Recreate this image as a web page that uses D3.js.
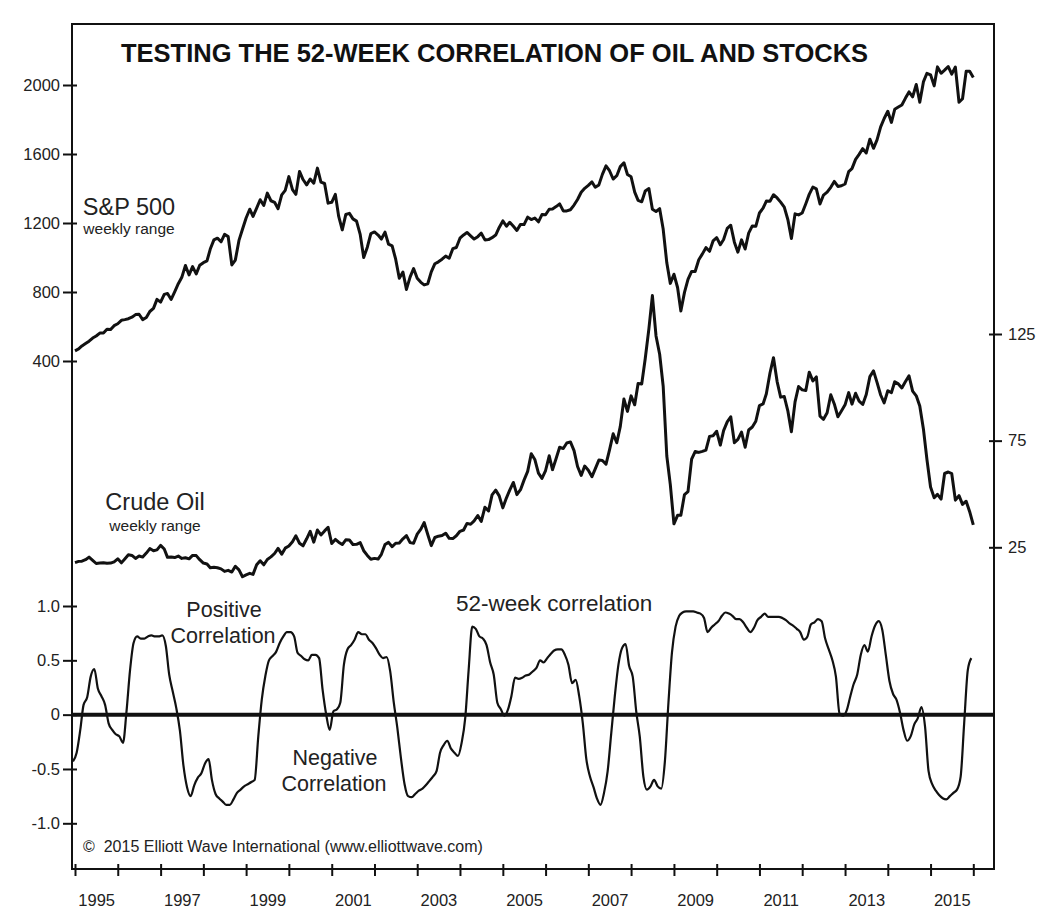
<!DOCTYPE html>
<html>
<head>
<meta charset="utf-8">
<script src="https://cdn.jsdelivr.net/npm/d3@7"></script>
<style>
  body { margin: 0; background: #fff; }
  svg { display: block; font-family: "Liberation Sans", Arial, Helvetica, sans-serif; }
</style>
</head>
<body>
<div id="chart"></div>
<script>
// S&P 500, month-end level, Dec 1994 .. Dec 2015
const spx = [
  459,
  470, 487, 501, 515, 533, 545, 562, 562, 584, 582, 605, 616,       // 1995
  636, 640, 645, 654, 669, 671, 640, 652, 687, 705, 757, 741,       // 1996
  786, 791, 757, 801, 848, 885, 954, 899, 947, 905, 955, 970,       // 1997
  980, 1049, 1102, 1112, 1091, 1134, 1121, 957, 985, 1099, 1164, 1229, // 1998
  1280, 1238, 1286, 1335, 1302, 1373, 1329, 1320, 1283, 1363, 1389, 1469, // 1999
  1394, 1366, 1499, 1452, 1421, 1455, 1431, 1518, 1437, 1429, 1315, 1320, // 2000
  1366, 1240, 1160, 1249, 1256, 1224, 1211, 1134, 1000, 1060, 1139, 1148, // 2001
  1130, 1107, 1147, 1077, 1067, 990, 880, 916, 815, 886, 936, 880,  // 2002
  856, 841, 848, 917, 964, 975, 990, 1008, 996, 1051, 1058, 1112,   // 2003
  1131, 1145, 1126, 1107, 1121, 1141, 1102, 1104, 1115, 1130, 1174, 1212, // 2004
  1181, 1204, 1181, 1157, 1192, 1191, 1234, 1220, 1229, 1207, 1249, 1248, // 2005
  1280, 1281, 1295, 1311, 1270, 1270, 1277, 1304, 1336, 1378, 1401, 1418, // 2006
  1438, 1407, 1421, 1482, 1531, 1503, 1455, 1474, 1527, 1549, 1481, 1468, // 2007
  1379, 1331, 1323, 1386, 1400, 1280, 1267, 1283, 1165, 969, 850, 903,    // 2008
  826, 690, 798, 873, 919, 919, 987, 1021, 1057, 1036, 1096, 1115,  // 2009
  1074, 1104, 1169, 1187, 1089, 1031, 1102, 1049, 1141, 1183, 1181, 1258, // 2010
  1286, 1327, 1326, 1364, 1345, 1321, 1292, 1219, 1110, 1253, 1247, 1258, // 2011
  1312, 1366, 1408, 1398, 1310, 1362, 1379, 1407, 1441, 1412, 1416, 1426, // 2012
  1498, 1515, 1569, 1598, 1631, 1606, 1686, 1633, 1682, 1757, 1806, 1848, // 2013
  1783, 1859, 1872, 1884, 1924, 1960, 1931, 2003, 1900, 2018, 2068, 2059, // 2014
  1995, 2105, 2068, 2086, 2107, 2063, 2104, 1900, 1920, 2079, 2080, 2044  // 2015
];

// crude oil (WTI), month-end $/bbl, Dec 1994 .. Dec 2015
const oil = [
  17.8,
  18.4, 18.5, 19.2, 20.4, 18.9, 17.4, 17.6, 17.8, 17.5, 17.6, 18.2, 19.6, // 1995
  17.7, 19.5, 21.5, 21.2, 19.8, 20.9, 20.4, 22.3, 24.4, 23.4, 23.8, 25.9, // 1996
  24.2, 20.3, 20.4, 20.2, 20.9, 19.8, 20.1, 19.6, 21.2, 21.1, 19.2, 17.6, // 1997
  17.2, 15.4, 15.6, 15.4, 14.9, 13.7, 14.2, 13.4, 16.1, 14.4, 11.2, 12.1, // 1998
  12.8, 12.3, 16.8, 18.7, 16.8, 19.3, 20.5, 22.1, 24.5, 21.8, 24.6, 25.6, // 1999
  27.6, 30.4, 26.9, 25.7, 29.0, 32.5, 27.4, 33.1, 30.8, 32.7, 34.4, 26.8, // 2000
  28.7, 27.4, 26.3, 28.5, 28.4, 26.3, 26.4, 27.2, 23.4, 21.2, 19.4, 19.8, // 2001
  19.5, 21.7, 26.3, 27.3, 25.3, 26.9, 27.0, 29.0, 30.5, 27.2, 26.9, 31.2, // 2002
  33.5, 36.6, 31.0, 25.8, 29.6, 30.2, 30.5, 31.6, 29.2, 29.1, 30.4, 32.5, // 2003
  33.1, 36.2, 35.8, 37.4, 39.9, 37.1, 43.8, 42.1, 49.6, 51.8, 49.1, 43.5, // 2004
  48.2, 51.8, 55.4, 49.7, 52.0, 56.5, 60.6, 68.9, 66.2, 59.8, 57.3, 61.0, // 2005
  67.9, 61.4, 66.6, 71.9, 71.3, 73.9, 74.4, 70.3, 62.9, 58.7, 63.1, 61.1, // 2006
  58.1, 61.8, 65.9, 65.7, 64.0, 70.7, 78.2, 74.0, 81.7, 94.5, 88.7, 96.0, // 2007
  91.8, 101.8, 101.6, 113.5, 127.4, 143.0, 124.1, 115.5, 100.6, 67.8, 54.4, 36.0, // 2008
  40.0, 40.0, 49.7, 51.1, 66.3, 69.9, 69.5, 70.0, 70.6, 77.0, 77.3, 79.4, // 2009
  72.9, 79.7, 83.8, 86.2, 74.0, 75.6, 79.0, 71.9, 80.0, 81.4, 84.1, 91.4, // 2010
  92.2, 97.0, 106.7, 113.9, 102.7, 95.4, 95.7, 88.8, 79.2, 93.2, 100.4, 98.8, // 2011
  98.5, 107.1, 103.0, 104.9, 86.5, 85.0, 88.1, 96.5, 92.2, 86.2, 88.9, 91.8, // 2012
  97.5, 92.1, 97.2, 93.5, 92.0, 96.6, 105.0, 107.7, 102.3, 96.4, 92.7, 98.4, // 2013
  97.5, 102.6, 101.6, 99.7, 102.7, 105.4, 98.2, 96.0, 91.2, 80.5, 66.2, 53.3, // 2014
  48.2, 49.8, 47.6, 59.6, 60.3, 59.5, 47.1, 49.2, 45.1, 46.6, 41.7, 35.5  // 2015
];

// 52-week correlation of oil and stocks, mid-month, Dec 1994 .. Dec 2015
const corr = [
  -0.43,
  -0.35, -0.14, 0.09, 0.16, 0.35, 0.42, 0.24, 0.17, 0.09, -0.08, -0.14, -0.18, // 1995
  -0.20, -0.26, 0.02, 0.41, 0.66, 0.72, 0.70, 0.70, 0.72, 0.73, 0.72, 0.72,    // 1996
  0.73, 0.63, 0.37, 0.21, 0.06, -0.15, -0.47, -0.67, -0.75, -0.65, -0.58, -0.54, // 1997
  -0.45, -0.41, -0.60, -0.73, -0.77, -0.80, -0.83, -0.83, -0.78, -0.72, -0.69, -0.66, // 1998
  -0.64, -0.62, -0.60, -0.20, 0.14, 0.36, 0.50, 0.54, 0.58, 0.66, 0.72, 0.76,  // 1999
  0.76, 0.72, 0.57, 0.54, 0.51, 0.50, 0.55, 0.55, 0.52, 0.23, 0.00, -0.14,     // 2000
  0.03, 0.05, 0.11, 0.46, 0.60, 0.64, 0.69, 0.76, 0.74, 0.74, 0.69, 0.66,      // 2001
  0.61, 0.55, 0.52, 0.53, 0.40, 0.11, -0.12, -0.40, -0.64, -0.75, -0.76, -0.73, // 2002
  -0.70, -0.68, -0.65, -0.61, -0.57, -0.52, -0.35, -0.28, -0.24, -0.31, -0.35, -0.38, // 2003
  -0.26, -0.03, 0.41, 0.81, 0.79, 0.72, 0.70, 0.64, 0.48, 0.37, 0.11, 0.05,    // 2004
  -0.01, 0.05, 0.17, 0.34, 0.33, 0.34, 0.36, 0.37, 0.40, 0.43, 0.50, 0.48,     // 2005
  0.52, 0.56, 0.59, 0.60, 0.60, 0.55, 0.46, 0.29, 0.32, 0.17, -0.08, -0.41,    // 2006
  -0.57, -0.67, -0.77, -0.83, -0.72, -0.52, -0.18, 0.17, 0.46, 0.61, 0.65, 0.45, // 2007
  0.35, 0.02, -0.20, -0.57, -0.69, -0.66, -0.60, -0.66, -0.68, -0.44, 0.11, 0.57, // 2008
  0.81, 0.91, 0.94, 0.95, 0.95, 0.95, 0.94, 0.93, 0.89, 0.76, 0.80, 0.83,      // 2009
  0.86, 0.91, 0.94, 0.93, 0.91, 0.88, 0.88, 0.85, 0.80, 0.76, 0.80, 0.87,      // 2010
  0.90, 0.93, 0.90, 0.90, 0.90, 0.90, 0.89, 0.87, 0.84, 0.82, 0.79, 0.76,      // 2011
  0.69, 0.72, 0.83, 0.85, 0.88, 0.86, 0.70, 0.60, 0.50, 0.35, 0.01, -0.01,     // 2012
  0.04, 0.17, 0.28, 0.37, 0.55, 0.64, 0.58, 0.72, 0.82, 0.86, 0.78, 0.55,      // 2013
  0.31, 0.19, 0.14, 0.02, -0.14, -0.24, -0.20, -0.09, -0.03, 0.07, -0.11, -0.52, // 2014
  -0.64, -0.70, -0.74, -0.77, -0.78, -0.75, -0.72, -0.69, -0.57, -0.08, 0.41, 0.52 // 2015
];

// axis ticks and labels
const spxTicks = [400, 800, 1200, 1600, 2000];
const oilTicks = [25, 75, 125];
const corrTicks = [-1, -0.5, 0, 0.5, 1];
const yearTicks = d3.range(1995, 2017);
const yearLabels = d3.range(1995, 2016, 2);

const width = 1055, height = 920;
const frame = { left: 72, right: 994, top: 24, bottom: 869 };

// scales
const x = d3.scaleTime()
  .domain([new Date(1995, 0, 1), new Date(2016, 0, 1)])
  .range([75, 973.3]);
const ySpx = d3.scaleLinear().domain([400, 2000]).range([361, 85]);
const yOil = d3.scaleLinear().domain([25, 125]).range([547.3, 334]);
const yCorr = d3.scaleLinear().domain([-1, 1]).range([823.3, 606]);

// dates: prices sit at month end, correlation at mid-month
const priceDates = d3.timeMonth.range(new Date(1995, 0, 1), new Date(2016, 0, 2));
const corrDates = d3.timeMonth.range(new Date(1994, 11, 1), new Date(2016, 0, 1))
  .map((d) => d3.timeDay.offset(d, 14));

const svg = d3.select("#chart").append("svg")
  .attr("width", width)
  .attr("height", height);

svg.append("rect").attr("width", width).attr("height", height).attr("fill", "#fff");

// frame
svg.append("rect")
  .attr("x", frame.left)
  .attr("y", frame.top)
  .attr("width", frame.right - frame.left)
  .attr("height", frame.bottom - frame.top)
  .attr("fill", "none")
  .attr("stroke", "#111")
  .attr("stroke-width", 2);

// helper to style an axis group
function styleAxis(g, size) {
  g.select(".domain").remove();
  g.selectAll("text")
    .attr("fill", "#222")
    .attr("font-size", size)
    .attr("font-family", "Liberation Sans, Arial, sans-serif");
  g.selectAll("line").attr("stroke", "#111").attr("stroke-width", 2);
}

// left axis: S&P 500
svg.append("g")
  .attr("transform", `translate(${frame.left},0)`)
  .call(d3.axisLeft(ySpx).tickValues(spxTicks).tickSize(9).tickPadding(3)
    .tickFormat(d3.format("d")))
  .call((g) => styleAxis(g, 16.5))
  .call((g) => g.selectAll("line").attr("x1", 5));

// left axis: correlation
svg.append("g")
  .attr("transform", `translate(${frame.left},0)`)
  .call(d3.axisLeft(yCorr).tickValues(corrTicks).tickSize(9).tickPadding(3)
    .tickFormat((d) => (d === 0 ? "0" : d.toFixed(1))))
  .call((g) => styleAxis(g, 16.5))
  .call((g) => g.selectAll("line").attr("x1", 5));

// right axis: crude oil
svg.append("g")
  .attr("transform", `translate(${frame.right},0)`)
  .call(d3.axisRight(yOil).tickValues(oilTicks).tickSize(8).tickPadding(6))
  .call((g) => styleAxis(g, 16.5))
  .call((g) => g.selectAll("line").attr("x1", -5));

// bottom axis: year ticks
svg.append("g")
  .attr("transform", `translate(0,${frame.bottom})`)
  .call(d3.axisBottom(x).tickValues(yearTicks.map((y) => new Date(y, 0, 1)))
    .tickSize(7).tickFormat(""))
  .call((g) => styleAxis(g, 16.5))
  .call((g) => g.selectAll("line").attr("y1", -5));

// bottom axis: labels centred in the year
svg.append("g")
  .attr("transform", `translate(0,${frame.bottom})`)
  .call(d3.axisBottom(x).tickValues(yearLabels.map((y) => new Date(y, 6, 1)))
    .tickSize(0).tickPadding(25).tickFormat(d3.timeFormat("%Y")))
  .call((g) => styleAxis(g, 16.5));

// zero line
svg.append("line")
  .attr("x1", frame.left)
  .attr("x2", frame.right)
  .attr("y1", yCorr(0))
  .attr("y2", yCorr(0))
  .attr("stroke", "#111")
  .attr("stroke-width", 4);

// lines
const spxLine = d3.line().x((d, i) => x(priceDates[i])).y((d) => ySpx(d));
const oilLine = d3.line().x((d, i) => x(priceDates[i])).y((d) => yOil(d));
const corrLine = d3.line().x((d, i) => x(corrDates[i])).y((d) => yCorr(d))
  .curve(d3.curveMonotoneX);

svg.append("path")
  .datum(spx)
  .attr("d", spxLine)
  .attr("fill", "none")
  .attr("stroke", "#111")
  .attr("stroke-width", 3)
  .attr("stroke-linejoin", "round");

svg.append("path")
  .datum(oil)
  .attr("d", oilLine)
  .attr("fill", "none")
  .attr("stroke", "#111")
  .attr("stroke-width", 3)
  .attr("stroke-linejoin", "round");

svg.append("path")
  .datum(corr)
  .attr("d", corrLine)
  .attr("fill", "none")
  .attr("stroke", "#111")
  .attr("stroke-width", 2.2)
  .attr("stroke-linejoin", "round");

// text labels
function label(txt, xPos, yPos, size, anchor, weight) {
  return svg.append("text")
    .attr("x", xPos)
    .attr("y", yPos)
    .attr("font-size", size)
    .attr("font-weight", weight || "normal")
    .attr("text-anchor", anchor || "middle")
    .attr("fill", weight ? "#111" : "#222")
    .text(txt);
}

label("TESTING THE 52-WEEK CORRELATION OF OIL AND STOCKS", 121, 62, 25.5, "start", "bold");
label("S&P 500", 129, 215, 23.5);
label("weekly range", 129, 234, 15.5);
label("Crude Oil", 155, 510, 23.5);
label("weekly range", 155, 531, 15.5);
label("Positive", 224, 617, 21.5);
label("Correlation", 223, 643, 21.5);
label("Negative", 335, 765, 21.5);
label("Correlation", 334, 791, 21.5);
label("52-week correlation", 456, 611, 22.5, "start");
label("\u00a9\u00a0 2015 Elliott Wave International (www.elliottwave.com)", 83, 852, 16, "start");
</script>
</body>
</html>
